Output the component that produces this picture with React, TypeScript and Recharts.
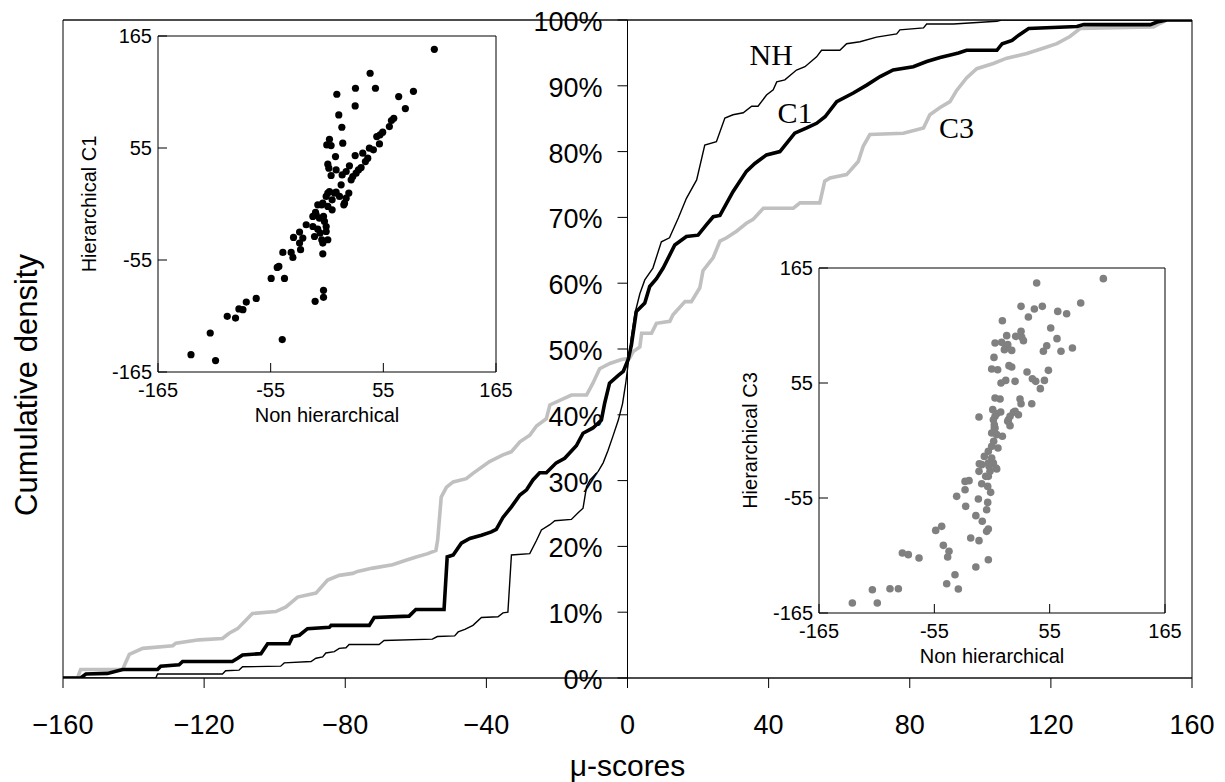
import React from 'react';
import {
  LineChart, Line, XAxis, YAxis, CartesianGrid, ReferenceLine, ReferenceDot,
  ScatterChart, Scatter, Label,
} from 'recharts';

const FONT = '"Liberation Sans", Arial, Helvetica, sans-serif';
const SERIF = '"Liberation Serif", "Times New Roman", serif';

// ---- main chart axes ----
const xTicks = [-160, -120, -80, -40, 0, 40, 80, 120, 160];
const yTicks = [0, 10, 20, 30, 40, 50, 60, 70, 80, 90, 100];

// ---- cumulative density curves (μ-score, cumulative %) ----
const nhX = [-160, -133.7, -133.2, -114.8, -113.9, -110.1, -109.1, -98.3, -97.3, -89.7, -88.3, -86.4, -85.5, -83.1, -81.7, -79.8, -78.9, -70.4, -69, -55.3, -53.9, -49, -48, -46.1, -43.8, -41.4, -36.7, -35.3, -33.9, -32.9, -27.7, -25.8, -24.4, -22, -20.6, -15.9, -14, -12.6, -11.6, -10.6, -8.3, -6.9, -5.5, -4.1, -2.6, -1.4, -0.5, 0.2, 1.1, 2.1, 3.5, 4.9, 7.2, 9.6, 11.9, 14.4, 16.7, 19.6, 21.9, 25.2, 27.6, 29.9, 32.8, 35.2, 37, 39.4, 41.3, 42.3, 44.6, 47.9, 50.3, 53.6, 55, 60.2, 62.1, 65.9, 70.6, 76.3, 77.2, 83.9, 84.8, 92.4, 104.7, 106, 160];
const nhY = [0, 0, 0.6, 0.6, 1.1, 1.2, 1.7, 1.8, 2.3, 2.5, 3.0, 3.2, 3.8, 4.0, 4.5, 4.6, 5.1, 5.1, 5.7, 5.9, 6.3, 6.4, 7.0, 7.4, 8.0, 9.2, 9.3, 9.9, 10.0, 18.7, 18.9, 20.9, 22.5, 23.3, 23.9, 24.1, 25.1, 25.8, 29.1, 30.1, 31.4, 32.7, 34.6, 36.8, 39.2, 41.7, 44.8, 47.8, 51.8, 55.4, 58.4, 60.5, 62.3, 66.3, 66.9, 69.9, 72.9, 75.7, 81, 81.5, 85.1, 85.6, 85.9, 86.9, 86.9, 88.6, 89.4, 90.6, 90.9, 92.4, 92.9, 94.4, 95.4, 95.4, 96.4, 96.7, 97.4, 97.9, 98.5, 98.8, 99.4, 99.4, 99.8, 100, 100];

const c1X = [-160, -155, -153.5, -147.4, -143.1, -133.2, -132.3, -127.1, -126.1, -112, -110.5, -109.1, -103.9, -102, -95.9, -94.9, -93, -90.7, -84.5, -84, -73.2, -71.8, -61.9, -60, -52, -51.1, -49.4, -47.1, -44.7, -41.4, -38.6, -37.2, -35.3, -32.9, -30.5, -28.6, -26.8, -24.9, -23, -20.2, -17.8, -14.5, -12.6, -9.8, -7.4, -6.5, -5.1, -2.6, -1.2, 0.2, 1.1, 2.5, 4.9, 6.3, 8.2, 10.1, 13.4, 16.7, 20, 22.4, 24.3, 26.2, 29.9, 33.7, 36.1, 39.4, 43.2, 47.4, 50.8, 53.6, 56, 59.3, 64, 67.8, 71.6, 75.3, 81, 84.8, 88.6, 92.4, 93.8, 96.1, 104.7, 106.2, 109, 110.9, 113.7, 127.4, 129.3, 148.2, 150.1, 152.9, 160];
const c1Y = [0, 0, 0.6, 0.7, 1.3, 1.3, 1.8, 2.0, 2.5, 2.5, 3.0, 3.5, 3.7, 5.2, 5.2, 6.3, 6.5, 7.5, 7.7, 8.0, 8.0, 9.2, 9.4, 10.4, 10.4, 18.4, 18.7, 20.5, 21.2, 21.7, 22.2, 22.6, 24.4, 26, 27.8, 28.6, 30.1, 31.2, 31.2, 32.7, 33.4, 35.3, 37.2, 38, 39.2, 41.7, 44.8, 46, 46.6, 48.4, 50.6, 55.7, 57, 59.5, 60.7, 62.3, 65.8, 67.1, 67.3, 68.9, 70.1, 70.3, 73.9, 77, 78.2, 79.5, 80, 82.8, 83.6, 84.3, 85.3, 87.6, 88.9, 90.1, 91.4, 92.4, 92.9, 93.7, 94.3, 94.8, 95.0, 95.4, 95.4, 96.4, 96.9, 97.7, 98.7, 99.0, 99.3, 99.3, 99.7, 100, 100];

const c3X = [-160, -155.9, -155, -143.1, -141.2, -137.4, -128.9, -128, -121.4, -114.8, -112.9, -110.5, -106.3, -99.7, -96.8, -93.5, -88.3, -85, -81.7, -77.9, -76.5, -72.2, -66.6, -62.8, -59.9, -56.6, -54.3, -53.8, -52.8, -51.3, -49.4, -45.7, -43.8, -39.1, -35.3, -32.9, -30.5, -27.7, -25.8, -23, -22, -15.9, -11.6, -9.8, -7.9, -5, -1.7, 0.6, 1.6, 3.5, 4, 6.8, 8.2, 12, 12.9, 16.3, 18.1, 20.5, 21.4, 24.3, 26.2, 28.1, 30.9, 33.7, 35.6, 38.5, 47, 48.9, 54.5, 55.9, 57.4, 62.1, 65.4, 66.8, 68.7, 78.2, 83.9, 85.7, 88.6, 91.4, 93.3, 96.1, 99, 103.7, 107.5, 113.2, 117.8, 121.7, 125.4, 128.3, 149.1, 151, 152.9, 160];
const c3Y = [0, 0, 1.3, 1.3, 3.6, 4.5, 4.9, 5.3, 5.8, 6.0, 6.8, 7.5, 9.8, 10.1, 10.8, 12.3, 12.9, 14.9, 15.6, 15.9, 16.2, 16.7, 17.2, 17.9, 18.4, 18.9, 19.4, 21, 27.5, 29, 29.8, 30.3, 31.1, 32.9, 33.9, 34.4, 35.9, 36.9, 38.3, 39.4, 41.5, 43, 43, 44.8, 47, 47.8, 48.4, 48.6, 49.6, 50.3, 52.4, 52.4, 53.9, 54.2, 55.2, 57.2, 57.2, 59.3, 61.9, 63.9, 66.4, 66.9, 67.9, 69.1, 69.7, 71.4, 71.4, 72.2, 72.2, 75.5, 76, 76.5, 78.5, 80.8, 82.6, 82.8, 83.6, 85.6, 86.7, 87.6, 89.3, 91.2, 92.6, 93.4, 94.2, 94.9, 95.7, 96.4, 97.5, 98.7, 98.95, 99.5, 100, 100];

// curve name annotations (position of text baseline start, in data units)
const curveNames = ['NH', 'C1', 'C3'];
const curveLabelX = [34.6, 42.5, 88.3];
const curveLabelY = [93.2, 84.4, 82.1];

// ---- inset scatter axes ----
const insetTicks = [-165, -55, 55, 165];
const insetInnerTicks = [-55, 55];

// inset 1: Non hierarchical (x) vs Hierarchical C1 (y)
const s1X = [104.8, 42.1, 27.8, 47.3, 9.6, 70, 84.4, 27.5, 76.5, 11.5, 65.2, 62.9, 14.5, 60.9, 54.4, 51.8, 48.6, 51.2, 2.4, -0.2, 4, 15.4, 41.4, 45.3, 8.3, 27.5, 39.8, 34.9, 37.5, 0.8, 1.8, 8.9, 21.9, 18.7, 33.3, 28.4, 4, 14.8, 23.6, 13.8, 21.3, 18.7, 17.1, 2.4, -0.8, 5, -4.1, 0.8, -9, 5, -11.2, -13.8, -7.3, -2.5, -20.3, -13.8, -9, -0.8, -26.8, -23.6, -32.7, -12.2, -5.1, 0.8, -26.8, -25.8, -43.1, -35, -33.3, -4.1, -47, -48.6, -54.5, -41.5, -69.1, -78.8, -82.1, -86, -97.4, -89.3, -114, -132.8, -108.8, -43.7, -11.6, -3.4, -3.4, -4.1, -6.7, -0.8, -10.6, -5.1, 8.9, 16.4, 12.2, 25.2, 30.7, 7.3, 0.8, -3.4];
const s1Y = [151.9, 128.4, 113.7, 113.7, 107.8, 105.5, 110.7, 96.3, 93.7, 87.5, 84.2, 82, 75.4, 76, 70.5, 67.9, 66.2, 59, 63.6, 58, 57.4, 59.7, 54.8, 53.2, 46.6, 47.6, 45, 49.9, 41.7, 39.1, 35.2, 33.5, 37.5, 31.9, 35.8, 30.3, 28, 28.6, 23.7, 18.8, 10.7, 5.7, 0.8, 12.3, 7.4, 4.1, 0.8, -2.4, -0.8, -5.7, -8.3, -12.2, -13.9, -17.1, -20.4, -22.1, -24.7, -27, -27.6, -33.5, -32.8, -31.9, -35.1, -35.1, -38.4, -44.9, -47.6, -47.6, -52.5, -48.9, -61.3, -62.3, -73.1, -73.1, -92.7, -96.3, -103.8, -103.1, -110.3, -112, -126.7, -148, -153.8, -133.2, -95.6, -91.7, -84.8, -38.4, -28.6, -22.1, -10.6, -0.8, 11.6, -0.8, 7.4, 27, 33.5, 10.7, 10.7, -12.2];

// inset 2: Non hierarchical (x) vs Hierarchical C3 (y)
const s3X = [106.2, 42.6, 84.6, 27.7, 40.4, 48, 34.7, 62.7, 71.2, 9.9, 56, 27.7, 22.6, 14, 9.2, 30, 62, 52.2, 49, 65.8, 76.7, 11.8, 18.8, 1.9, -0.3, 5.4, 16.2, 18.8, 33.4, 53.8, 38.5, 41.7, 50, 46.1, 22, 13.1, 8.6, 2.9, 7.7, 26.7, 27.7, 37.9, 0.7, 8.3, 2.9, -12.4, 20.4, 25.2, 15.6, 17.2, 2.2, -0.3, 4.5, 9.9, 1.6, 5.7, -3.5, -7.3, -0.3, -12.1, 3.8, -1.9, -12.4, -6, -25.7, -21.9, -25.7, -33.7, -9.8, -4.1, -1.3, -13, -4.1, -25.1, -5.1, -15.4, -9.3, -3.5, -5.1, -20.3, -12.4, -53.7, -48, -46.4, -41, -42.3, -85.5, -79.8, -69.6, -35.3, -15.4, -3.5, -43.2, -32.1, -97.3, -89.3, -114.1, -133.2, -109.4, 2.9, 15, -2.8, 2.2, -0.3, 4.5, 1.3, 2.9, -3.5, 1.3, 4.5, -9.8, -3.5, 22, 17.2, 15, 13.1, 28.3];
const s3Y = [154.8, 150.7, 131.5, 128.3, 125.8, 128.3, 118.1, 123.5, 121.3, 114.6, 107.6, 104.4, 99.6, 100.3, 93.9, 95.5, 97.4, 90.7, 85.3, 85.3, 88.5, 86.9, 86.2, 79.5, 68.4, 67.7, 71.6, 70.3, 65.5, 67.1, 59.1, 56.6, 57.5, 49.6, 56.6, 57.5, 55, 40.6, 39.7, 39.7, 35.2, 35.2, 29.5, 27.2, 23.1, 22.5, 27, 24.7, 19.9, 14.2, 15.1, 7.2, 5.6, 4, -0.8, -7.2, -10.4, -15.2, -16.8, -22.2, -26.3, -29.5, -29.5, -34.3, -39.1, -38.4, -47.1, -53.4, -41.3, -43.9, -49.6, -56, -59.2, -63, -66.2, -71.9, -77.3, -84.7, -86.9, -93.3, -95.8, -86, -82.1, -100.3, -106, -111.5, -107.6, -109.2, -112.4, -128.4, -121, -114, -137, -142.1, -141.8, -141.8, -142.7, -155.5, -155.5, 93.3, 91.7, -24.7, 12, -5.6, 25.6, 19.9, 11.9, -21.5, -21.5, -27.3, -23.1, -34.3, 27.9, 23.1, 18.3, 88.5, 99];

const zip = (xs: number[], ys: number[]) => xs.map((x, i) => ({ x, y: ys[i] }));

const nhData = zip(nhX, nhY);
const c1Data = zip(c1X, c1Y);
const c3Data = zip(c3X, c3Y);
const s1Data = zip(s1X, s1Y);
const s3Data = zip(s3X, s3Y);

const fmtMainX = (v: number) => (v < 0 ? `\u2212${Math.abs(v)}` : `${v}`);

const YTickMark = (props: any) => {
  const { cx, cy, value } = props;
  if (cx == null || cy == null) return null;
  return (
    <g>
      <line x1={cx - 10} x2={cx} y1={cy} y2={cy} stroke="#000" strokeWidth={1} />
      <text x={cx - 25} y={cy + 11} textAnchor="end" fontSize={27} fontFamily={FONT} fill="#000">
        {`${value}%`}
      </text>
    </g>
  );
};

const CurveName = (props: any) => {
  const { cx, cy, name } = props;
  if (cx == null || cy == null) return null;
  return (
    <text x={cx} y={cy} fontSize={30} fontFamily={SERIF} fill="#000">{name}</text>
  );
};

type InsetProps = {
  left: number; top: number; width: number; height: number;
  margin: { top: number; right: number; left: number; bottom: number };
  yAxisWidth: number; xAxisHeight: number; xLabelOffset: number; yLabelDx: number;
  data: { x: number; y: number }[]; color: string; r: number; yLabel: string;
};

const Inset = (p: InsetProps) => (
  <div style={{ position: 'absolute', left: p.left, top: p.top, width: p.width, height: p.height, background: '#fff' }}>
    <ScatterChart width={p.width} height={p.height} margin={p.margin}>
      <XAxis
        type="number" dataKey="x" domain={[-165, 165]} ticks={insetTicks} interval={0}
        allowDataOverflow height={p.xAxisHeight} tickSize={-9} tickMargin={20}
        stroke="#000" tick={{ fontSize: 20, fill: '#000', fontFamily: FONT }}
      >
        <Label value="Non hierarchical" position="insideBottom" offset={p.xLabelOffset}
          fontSize={20} fill="#000" fontFamily={FONT} />
      </XAxis>
      <XAxis
        xAxisId="top" orientation="top" mirror type="number" domain={[-165, 165]}
        ticks={insetInnerTicks} interval={0} allowDataOverflow tick={false} tickSize={9} stroke="#000"
      />
      <YAxis
        type="number" dataKey="y" domain={[-165, 165]} ticks={insetTicks} interval={0}
        allowDataOverflow width={p.yAxisWidth} tickSize={-9} tickMargin={15}
        stroke="#000" tick={{ fontSize: 20, fill: '#000', fontFamily: FONT }}
      >
        <Label value={p.yLabel} angle={-90} position="center" dx={p.yLabelDx}
          fontSize={20} fill="#000" fontFamily={FONT} />
      </YAxis>
      <YAxis
        yAxisId="right" orientation="right" mirror type="number" domain={[-165, 165]}
        ticks={insetInnerTicks} interval={0} allowDataOverflow tick={false} tickSize={9} stroke="#000"
      />
      <Scatter
        data={p.data} fill={p.color} isAnimationActive={false}
        shape={(sp: any) => <circle cx={sp.cx} cy={sp.cy} r={p.r} fill={p.color} />}
      />
    </ScatterChart>
  </div>
);

export default function App() {
  return (
    <div style={{ position: 'absolute', left: 0, top: 0, width: 1225, height: 782, background: '#fff' }}>
      <LineChart width={1225} height={782} margin={{ top: 20, right: 33, left: 63, bottom: 0 }}>
        <CartesianGrid horizontal vertical={false} stroke="#333" strokeWidth={1} />
        <XAxis
          type="number" dataKey="x" domain={[-160, 160]} ticks={xTicks} interval={0}
          allowDataOverflow height={104} tickSize={10} tickMargin={27} tickFormatter={fmtMainX}
          stroke="#000" tick={{ fontSize: 27, fill: '#000', fontFamily: FONT }}
        >
          <Label value="μ-scores" position="insideBottom" offset={6} fontSize={30} fill="#000" fontFamily={FONT} />
        </XAxis>
        <YAxis
          type="number" domain={[0, 100]} ticks={yTicks} interval={0} allowDataOverflow
          mirror tick={false} tickSize={10} stroke="#000"
        />
        <YAxis
          yAxisId="right" orientation="right" type="number" domain={[0, 100]} ticks={yTicks}
          interval={0} allowDataOverflow mirror tick={false} tickSize={8} stroke="#000"
        />
        <ReferenceLine y={100} stroke="#000" strokeWidth={1} />
        <ReferenceLine x={0} stroke="#000" strokeWidth={1} />
        {yTicks.map((v) => (
          <ReferenceDot key={`yt${v}`} x={0} y={v} shape={(sp: any) => <YTickMark {...sp} value={v} />} />
        ))}
        <Line data={c3Data} dataKey="y" type="linear" stroke="#c0c0c0" strokeWidth={3.6} dot={false} isAnimationActive={false} />
        <Line data={nhData} dataKey="y" type="linear" stroke="#000" strokeWidth={1.4} dot={false} isAnimationActive={false} />
        <Line data={c1Data} dataKey="y" type="linear" stroke="#000" strokeWidth={3.6} dot={false} isAnimationActive={false} />
        {curveNames.map((n, i) => (
          <ReferenceDot key={n} x={curveLabelX[i]} y={curveLabelY[i]} shape={(sp: any) => <CurveName {...sp} name={n} />} />
        ))}
      </LineChart>

      <Inset
        left={74} top={21} width={442} height={409}
        margin={{ top: 15, right: 20, left: 0, bottom: 0 }}
        yAxisWidth={84} xAxisHeight={58} xLabelOffset={8} yLabelDx={-27}
        data={s1Data} color="#000" r={3.6} yLabel="Hierarchical C1"
      />
      <Inset
        left={729} top={245} width={453} height={432}
        margin={{ top: 23, right: 17, left: 0, bottom: 0 }}
        yAxisWidth={90} xAxisHeight={64} xLabelOffset={14} yLabelDx={-24}
        data={s3Data} color="#808080" r={3.8} yLabel="Hierarchical C3"
      />

      <div
        style={{
          position: 'absolute', left: 25.5, top: 385, transform: 'translate(-50%, -50%) rotate(-90deg)',
          fontSize: 31, fontFamily: FONT, whiteSpace: 'nowrap', lineHeight: 1, color: '#000',
        }}
      >
        Cumulative density
      </div>
    </div>
  );
}
